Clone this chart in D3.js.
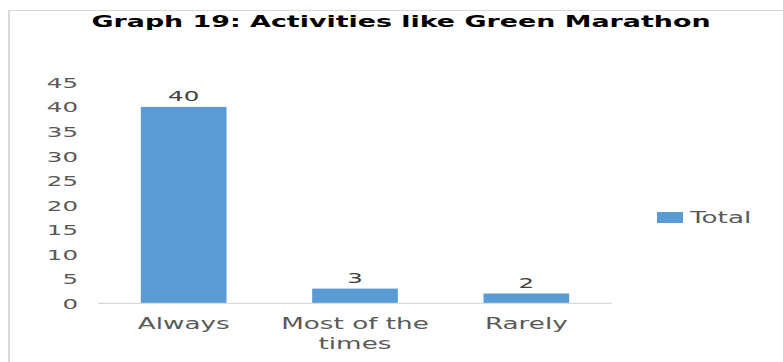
<!DOCTYPE html>
<html>
<head>
<meta charset="utf-8">
<script src="https://cdn.jsdelivr.net/npm/d3@7"></script>
<style>
  html, body { margin: 0; padding: 0; background: #fff; }
  svg { display: block; font-family: "DejaVu Sans", sans-serif; }
</style>
</head>
<body>
<svg id="chart" width="783" height="362"></svg>
<script>
// ---- data ----
const title = "Graph 19: Activities like Green Marathon";
const categories = ["Always", "Most of the times", "Rarely"];
const totals = [40, 3, 2];
const seriesName = "Total";
const yTicks = [0, 5, 10, 15, 20, 25, 30, 35, 40, 45];

// ---- layout ----
const W = 783, H = 362;
const plot = { left: 98, right: 612, top: 82.4, bottom: 303.3 };
const SX = 1.75;          // horizontal text stretch of the original
const barColor = "#5b9bd5";
const axisColor = "#d9d9d9";

const svg = d3.select("#chart");

// outer chart frame
svg.append("rect").attr("x", 9.5).attr("y", 10.5).attr("width", 900).attr("height", 500)
  .attr("fill", "none").attr("stroke", axisColor).attr("stroke-width", 1);
svg.append("line").attr("x1", 9).attr("x2", 9).attr("y1", 10).attr("y2", H)
  .attr("stroke", axisColor).attr("stroke-width", 2);

// title
svg.append("text")
  .attr("transform", `translate(401,27) scale(1.63,1)`)
  .attr("text-anchor", "middle")
  .attr("font-weight", "bold").attr("font-size", 16.5).attr("fill", "#000")
  .text(title);

const x = d3.scaleBand().domain(categories).range([plot.left, plot.right])
  .paddingInner(0.5).paddingOuter(0.25);
const y = d3.scaleLinear().domain([0, 45]).range([plot.bottom, plot.top]);

// y axis
const gy = svg.append("g").attr("transform", `translate(${plot.left},0)`)
  .call(d3.axisLeft(y).tickValues(yTicks).tickSize(0).tickPadding(0));
gy.select(".domain").remove();
gy.selectAll("text")
  .attr("x", 0).attr("dy", "0.36em")
  .attr("transform", `translate(-20,0) scale(${SX},1)`)
  .attr("font-family", "DejaVu Sans, sans-serif")
  .attr("font-size", 14).attr("fill", "#595959");

// bars
svg.append("g").selectAll("rect").data(categories).join("rect")
  .attr("x", d => x(d))
  .attr("width", x.bandwidth())
  .attr("y", (d, i) => y(totals[i]))
  .attr("height", (d, i) => y(0) - y(totals[i]))
  .attr("fill", barColor);

// value labels
svg.append("g").selectAll("text").data(categories).join("text")
  .attr("transform", (d, i) => `translate(${x(d) + x.bandwidth() / 2},${y(totals[i]) - 5.5}) scale(${SX},1)`)
  .attr("text-anchor", "middle")
  .attr("font-size", 14).attr("fill", "#404040")
  .text((d, i) => totals[i]);

// x axis
const gx = svg.append("g").attr("transform", `translate(0,${plot.bottom})`)
  .call(d3.axisBottom(x).tickSize(0).tickPadding(0));
gx.select(".domain").attr("stroke", axisColor).attr("stroke-width", 1.3)
  .attr("d", `M${plot.left},0H${plot.right}`);

gx.selectAll(".tick text").each(function (d) {
  const t = d3.select(this);
  t.text(null).attr("y", 0).attr("dy", null)
    .attr("transform", `translate(0,25.5) scale(${SX},1)`)
    .attr("font-family", "DejaVu Sans, sans-serif")
    .attr("font-size", 15).attr("fill", "#595959");
  // wrap to band step width
  const maxW = x.step() / SX;
  const words = d.split(" ");
  let line = [], lineNo = 0;
  let tspan = t.append("tspan").attr("x", 0).attr("dy", 0);
  words.forEach(w => {
    line.push(w);
    tspan.text(line.join(" "));
    if (tspan.node().getComputedTextLength() > maxW && line.length > 1) {
      line.pop();
      tspan.text(line.join(" "));
      line = [w];
      lineNo++;
      tspan = t.append("tspan").attr("x", 0).attr("dy", "1.35em").text(w);
    }
  });
});

// legend
const lg = svg.append("g");
lg.append("rect").attr("x", 657).attr("y", 212).attr("width", 26).attr("height", 11).attr("fill", barColor);
lg.append("text").attr("transform", `translate(690,223) scale(${SX},1)`)
  .attr("font-size", 15).attr("fill", "#595959").text(seriesName);
</script>
</body>
</html>
